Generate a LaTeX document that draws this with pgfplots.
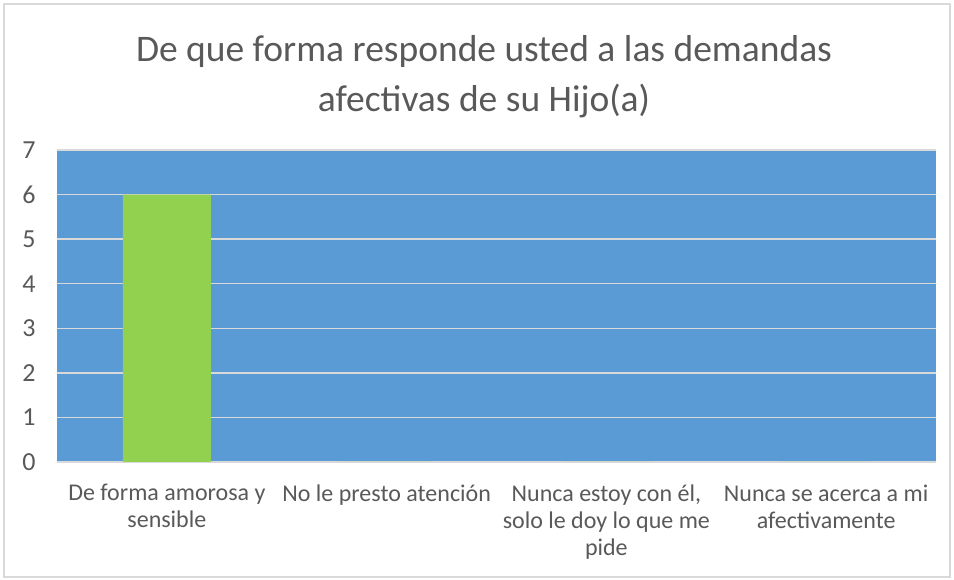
\documentclass[border=0pt]{standalone}
\usepackage{pgfplots}
\pgfplotsset{compat=1.18}
\usepackage{fontspec}
\setmainfont{Carlito}
\definecolor{bgblue}{HTML}{5B9BD5}
\definecolor{bargreen}{HTML}{92D050}
\definecolor{txt}{HTML}{595959}
\definecolor{gridc}{HTML}{D9D9D9}
\begin{document}
\begin{tikzpicture}
\path[use as bounding box] (0pt,0pt) rectangle (954pt,580pt);
\draw[gridc, line width=1.3pt] (4pt,3pt) rectangle (950pt,576pt);
\node[txt, align=center, font=\fontsize{37.5}{50}\selectfont, anchor=north] at (484pt,548pt) {De que forma responde usted a las demandas\\afectivas de su Hijo(a)};
\begin{axis}[
  at={(57pt,118pt)}, anchor=south west,
  scale only axis, width=879pt, height=312pt,
  xmin=-0.5, xmax=3.5, ymin=0, ymax=7,
  ytick={0,1,2,3,4,5,6,7},
  xtick={0,1,2,3},
  xticklabels={{De forma amorosa y\\sensible},{No le presto atención},{Nunca estoy con él,\\solo le doy lo que me\\pide},{Nunca se acerca a mi\\afectivamente}},
  axis background/.style={fill=bgblue},
  axis line style={draw=none},
  ymajorgrids, grid style={gridc, line width=1.3pt},
  major tick length=0pt,
  /pgf/number format/assume math mode=true,
  yticklabel style={font=\fontsize{26}{28}\selectfont, text=txt, anchor=east, xshift=-18pt},
  xticklabel style={font=\fontsize{24}{27}\selectfont, text=txt, align=center, anchor=north, yshift=-19pt},
  ybar, bar width=88pt,
]
\addplot[draw=none, fill=bargreen] coordinates {(0,6) (1,0) (2,0) (3,0)};
\end{axis}
\end{tikzpicture}
\end{document}
